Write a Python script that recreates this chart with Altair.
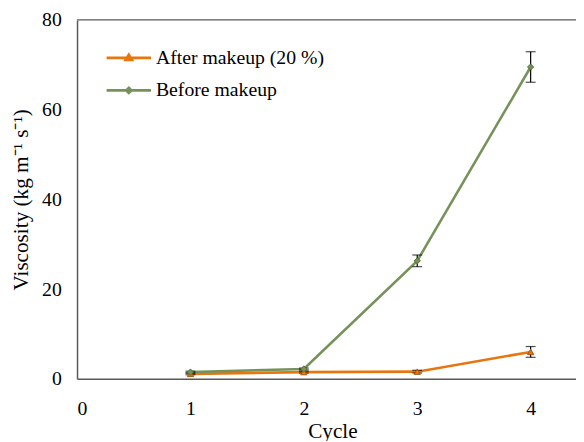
import altair as alt
import pandas as pd

cycles = [1, 2, 3, 4]
after_vals = [1.1, 1.5, 1.6, 6.0]
after_err = [0.2, 0.2, 0.3, 1.2]
before_vals = [1.5, 2.2, 26.3, 69.5]
before_err = [0.2, 0.2, 1.3, 3.4]
series = ["After makeup (20 %)", "Before makeup"]
colors = ["#E8760F", "#76925A"]
edge_colors = ["#A85408", "#55703A"]

rows = []
for name, vals, errs in [(series[0], after_vals, after_err), (series[1], before_vals, before_err)]:
    for c, v, e in zip(cycles, vals, errs):
        rows.append({"cycle": c, "value": v, "lo": v - e, "hi": v + e,
                     "series": name, "series_leg": name})
df = pd.DataFrame(rows)

FONT = "Liberation Serif"
YTITLE = "Viscosity (kg m⁻¹ s⁻¹)"

x_axis = alt.Axis(values=[0, 1, 2, 3, 4], format="d", title="Cycle", titleX=259, titleY=42,
                  labelPadding=20, tickSize=0, grid=False,
                  labelFont=FONT, titleFont=FONT, labelFontSize=20, titleFontSize=21.5,
                  labelColor="#000000", titleColor="#000000", titleFontWeight="normal",
                  domainColor="#595959", domainWidth=1.5)
y_axis = alt.Axis(values=[0, 20, 40, 60, 80], format="d", title=YTITLE,
                  labelPadding=16, tickSize=0, grid=False, titlePadding=9,
                  labelFont=FONT, titleFont=FONT, labelFontSize=20, titleFontSize=21.5,
                  labelColor="#000000", titleColor="#000000", titleFontWeight="normal",
                  domainColor="#595959", domainWidth=1.5)

xs = alt.X("cycle:Q", scale=alt.Scale(domain=[0, 4.4], nice=False, zero=False), axis=x_axis)
ys = alt.Y("value:Q", scale=alt.Scale(domain=[0, 80], nice=False), axis=y_axis)

base = alt.Chart(df)

lines = base.mark_line(strokeWidth=2.6).encode(
    x=xs, y=ys,
    color=alt.Color("series:N", scale=alt.Scale(domain=series, range=colors), legend=None),
    detail="series:N")

err = base.mark_errorbar(ticks=alt.MarkConfig(size=10, color="#000000"), color="#000000", thickness=1.2).encode(
    x=xs, y=alt.Y("lo:Q", axis=y_axis, title=YTITLE), y2="hi:Q")

points = base.mark_point(filled=True, size=40, strokeWidth=1, opacity=1).encode(
    x=xs, y=ys,
    fill=alt.Fill("series:N", scale=alt.Scale(domain=series, range=colors), legend=None),
    shape=alt.Shape("series:N", scale=alt.Scale(domain=series, range=["triangle-up", "diamond"]), legend=None),
    stroke=alt.Stroke("series:N", scale=alt.Scale(domain=series, range=edge_colors), legend=None),
)

leg = alt.Legend(title=None, orient="none", legendX=36, legendY=22,
                 labelFont=FONT, labelFontSize=20, labelColor="#000000", labelLimit=400,
                 symbolSize=900, rowPadding=6, labelOffset=11,
                 symbolStrokeWidth=2.6, symbolOpacity=1)

legend_layer = base.transform_filter("false").mark_point(filled=True, strokeWidth=2.6, opacity=1).encode(
    x=xs, y=ys,
    fill=alt.Fill("series_leg:N", scale=alt.Scale(domain=series, range=colors), legend=leg),
    stroke=alt.Stroke("series_leg:N", scale=alt.Scale(domain=series, range=colors), legend=leg),
    shape=alt.Shape("series_leg:N", scale=alt.Scale(domain=series, range=[
        "M-1.5,0H1.5M0,-0.22L0.22,0.14L-0.22,0.14Z",
        "M-1.5,0H1.5M0,-0.18L0.18,0L0,0.18L-0.18,0Z"]), legend=leg),
)

top = alt.Chart(pd.DataFrame({"y": [80]})).mark_rule(color="#595959", strokeWidth=1.5).encode(
    y=alt.Y("y:Q", scale=alt.Scale(domain=[0, 80], nice=False), axis=y_axis))

chart = alt.layer(lines, err, points, legend_layer, top).resolve_scale(
    stroke="independent", fill="independent", shape="independent", color="independent"
).properties(
    width=506, height=364,
    autosize=alt.AutoSizeParams(type="none"),
    padding={"left": 70, "top": 9, "right": 0, "bottom": 60},
    background="white",
).configure(font=FONT).configure_view(stroke=None).configure_axis(
    labelFont=FONT, titleFont=FONT
).configure_legend(labelFont=FONT)

chart.save("out.html", embed_options={"renderer": "svg", "actions": False})
